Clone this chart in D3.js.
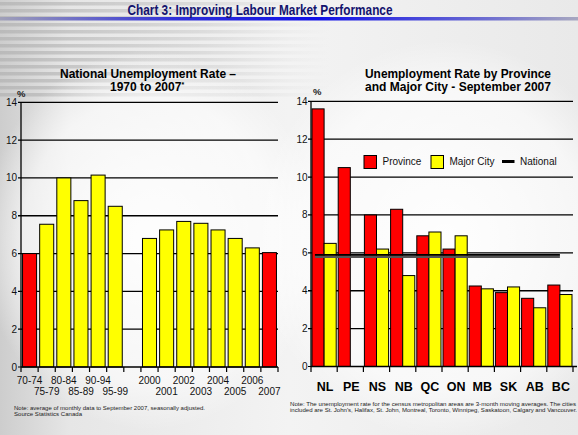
<!DOCTYPE html>
<html><head><meta charset="utf-8">
<script src="https://cdn.jsdelivr.net/npm/d3@7"></script>
<style>html,body{margin:0;padding:0;background:#e4e4e4;}svg{display:block;}</style>
</head><body>
<svg id="c" width="578" height="435"></svg>
<script>
// ---------- data ----------
const periods = ["70-74","75-79","80-84","85-89","90-94","95-99","2000","2001","2002","2003","2004","2005","2006","2007"];
const nationalRate = [6.0,7.55,10.0,8.8,10.15,8.5,6.8,7.25,7.7,7.6,7.25,6.8,6.3,6.05];
const highlighted = ["70-74","2007"];
const yTicks = [0,2,4,6,8,10,12,14];

const provinces = ["NL","PE","NS","NB","QC","ON","MB","SK","AB","BC"];
const provinceRate = [13.6,10.5,8.0,8.3,6.9,6.2,4.25,3.9,3.6,4.3];
const cityRate = [6.5,null,6.2,4.8,7.1,6.9,4.1,4.2,3.1,3.8];
const nationalSept = 5.85;
const seriesNames = ["Province","Major City","National"];

const RED = "#ff0000", YEL = "#ffff00";
const svg = d3.select("#c");
const defs = svg.append("defs");

// ---------- background ----------
const bg = defs.append("linearGradient").attr("id","bg").attr("x1",0).attr("x2",1).attr("y1",0).attr("y2",0);
bg.append("stop").attr("offset",0).attr("stop-color","#cdcdcd");
bg.append("stop").attr("offset",0.12).attr("stop-color","#e6e6e6");
bg.append("stop").attr("offset",0.5).attr("stop-color","#f3f3f3");
bg.append("stop").attr("offset",1).attr("stop-color","#e9e9e9");
svg.append("rect").attr("width",578).attr("height",435).attr("fill","url(#bg)");

const stripeFade = defs.append("linearGradient").attr("id","sf").attr("x1",0).attr("x2",1);
stripeFade.append("stop").attr("offset",0).attr("stop-color","#b8b8b8").attr("stop-opacity",0.9);
stripeFade.append("stop").attr("offset",0.6).attr("stop-color","#c4c4c4").attr("stop-opacity",0.45);
stripeFade.append("stop").attr("offset",1).attr("stop-color","#d0d0d0").attr("stop-opacity",0);
const stripeYs = d3.range(2, 100, 7);
svg.append("g").selectAll("rect").data(stripeYs).join("rect")
  .attr("x",0).attr("y",d=>d).attr("width",330).attr("height",3.5).attr("fill","url(#sf)");

// white plot glows
const glow = defs.append("radialGradient").attr("id","glow");
glow.append("stop").attr("offset",0).attr("stop-color","#ffffff").attr("stop-opacity",0.95);
glow.append("stop").attr("offset",0.75).attr("stop-color","#ffffff").attr("stop-opacity",0.6);
glow.append("stop").attr("offset",1).attr("stop-color","#ffffff").attr("stop-opacity",0);
svg.append("ellipse").attr("cx",150).attr("cy",240).attr("rx",170).attr("ry",190).attr("fill","url(#glow)");
svg.append("ellipse").attr("cx",445).attr("cy",240).attr("rx",190).attr("ry",200).attr("fill","url(#glow)");

// title band
const tb = defs.append("linearGradient").attr("id","tb").attr("x1",0).attr("x2",1);
tb.append("stop").attr("offset",0).attr("stop-color","#a0a0b8");
tb.append("stop").attr("offset",0.3).attr("stop-color","#3030d8");
tb.append("stop").attr("offset",0.55).attr("stop-color","#1010e8");
tb.append("stop").attr("offset",0.85).attr("stop-color","#7070d0");
tb.append("stop").attr("offset",1).attr("stop-color","#a8a8c0");
svg.append("rect").attr("x",0).attr("y",17).attr("width",578).attr("height",3.5).attr("fill","url(#tb)");
svg.append("text").attr("x",260).attr("y",15).attr("text-anchor","middle")
  .attr("font-family","'Liberation Sans Narrow','Arial Narrow',Arial,sans-serif").attr("font-weight","bold")
  .attr("font-size",15).attr("fill","#14146e")
  .attr("textLength",265).attr("lengthAdjust","spacingAndGlyphs")
  .text("Chart 3: Improving Labour Market Performance");

const FONT = "Arial, 'Liberation Sans', sans-serif";
const NARROW = "'Liberation Sans Narrow','Arial Narrow',Arial,sans-serif";

// ---------- left chart ----------
const L = {x0:21, x1:278, y0:367, y1:102.3};
const slots = [...periods.slice(0,6), "", ...periods.slice(6)];
const xL = d3.scaleBand().domain(slots).range([L.x0,L.x1]).paddingInner(0.18).paddingOuter(0.09);
const yL = d3.scaleLinear().domain([0,14]).range([L.y0,L.y1]);
const gL = svg.append("g");

gL.append("g").selectAll("line").data(yTicks.filter(d=>d>0)).join("line")
  .attr("x1",L.x0-3).attr("x2",L.x1).attr("y1",d=>yL(d)).attr("y2",d=>yL(d))
  .attr("stroke","#000").attr("stroke-width",1.3);

gL.append("g").selectAll("rect").data(periods).join("rect")
  .attr("x",d=>xL(d)).attr("width",xL.bandwidth())
  .attr("y",(d,i)=>yL(nationalRate[i])).attr("height",(d,i)=>yL(0)-yL(nationalRate[i]))
  .attr("fill",d=>highlighted.includes(d)?RED:YEL).attr("stroke","#000").attr("stroke-width",1);

// axes
gL.append("line").attr("x1",L.x0).attr("x2",L.x0).attr("y1",L.y1).attr("y2",L.y0).attr("stroke","#000").attr("stroke-width",1.3);
gL.append("line").attr("x1",L.x0).attr("x2",L.x1).attr("y1",L.y0).attr("y2",L.y0).attr("stroke","#000").attr("stroke-width",1.3);
const stepL = xL.step();
const bL = slots.map(s=>xL(s)-stepL*0.09).concat([L.x1]);
gL.append("g").selectAll("line").data(bL).join("line")
  .attr("x1",d=>d).attr("x2",d=>d).attr("y1",L.y0).attr("y2",L.y0+5).attr("stroke","#000").attr("stroke-width",1.2);
gL.append("line").attr("x1",L.x0-3).attr("x2",L.x0).attr("y1",yL(0)).attr("y2",yL(0)).attr("stroke","#000");

gL.append("g").selectAll("text").data(yTicks).join("text")
  .attr("x",L.x0-4).attr("y",d=>yL(d)+3.5).attr("text-anchor","end")
  .attr("font-family",FONT).attr("font-size",10).attr("fill","#111").text(d=>d);
gL.append("text").attr("x",17).attr("y",97).attr("font-family",FONT).attr("font-size",9.5).attr("font-weight","bold").attr("fill","#222").text("%");

gL.append("g").selectAll("text").data(periods).join("text")
  .attr("x",d=>xL(d)+xL.bandwidth()/2)
  .attr("y",(d,i)=> i%2===0 ? 383.5 : 394.5)
  .attr("text-anchor","middle").attr("font-family",NARROW).attr("font-size",10).attr("fill","#111").text(d=>d);

const tL = svg.append("text").attr("font-family",FONT).attr("font-weight","bold").attr("font-size",12).attr("fill","#000");
tL.append("tspan").attr("x",148).attr("y",78).attr("text-anchor","middle").attr("textLength",176).attr("lengthAdjust","spacingAndGlyphs").text("National Unemployment Rate –");
const t2 = svg.append("text").attr("x",110).attr("y",90.5).attr("font-family",FONT).attr("font-weight","bold").attr("font-size",12).attr("fill","#000");
t2.append("tspan").text("1970 to 2007");
t2.append("tspan").attr("font-size",7).attr("dy",-4).text("*");

svg.append("text").attr("x",14).attr("y",409.5).attr("font-family",FONT).attr("font-size",6).attr("fill","#222")
  .attr("textLength",191).attr("lengthAdjust","spacingAndGlyphs")
  .text("Note: average of monthly data to September 2007, seasonally adjusted.");
svg.append("text").attr("x",14).attr("y",416).attr("font-family",FONT).attr("font-size",6).attr("fill","#222")
  .attr("textLength",68).attr("lengthAdjust","spacingAndGlyphs")
  .text("Source Statistics Canada");

// ---------- right chart ----------
const R = {x0:311, x1:573, y0:366.5, y1:101.3};
const x0 = d3.scaleBand().domain(provinces).range([R.x0,R.x1]).padding(0);
const x1 = d3.scaleBand().domain(seriesNames.slice(0,2)).range([1, x0.step()-1]).padding(0);
const yR = d3.scaleLinear().domain([0,14]).range([R.y0,R.y1]);
const gR = svg.append("g");

gR.append("g").selectAll("line").data(yTicks.filter(d=>d>0)).join("line")
  .attr("x1",R.x0-3).attr("x2",R.x1).attr("y1",d=>yR(d)).attr("y2",d=>yR(d))
  .attr("stroke","#000").attr("stroke-width",1.3);

const groups = provinces.map((p,i)=>({p, vals:[{s:"Province",v:provinceRate[i]},{s:"Major City",v:cityRate[i]}]}));
gR.append("g").selectAll("g").data(groups).join("g")
  .attr("transform",d=>`translate(${x0(d.p)},0)`)
  .selectAll("rect").data(d=>d.vals.filter(v=>v.v!=null)).join("rect")
  .attr("x",d=>x1(d.s)).attr("width",x1.bandwidth())
  .attr("y",d=>yR(d.v)).attr("height",d=>yR(0)-yR(d.v))
  .attr("fill",d=>d.s==="Province"?RED:YEL).attr("stroke","#000").attr("stroke-width",1);

// national line
const nx1 = x0("NL")+x0.step()*0.15, nx2 = x0("BC")+x0.step()*0.5;
gR.append("line").attr("x1",nx1).attr("x2",nx2).attr("y1",yR(nationalSept)+1).attr("y2",yR(nationalSept)+1)
  .attr("stroke","#555").attr("stroke-width",2.5);
gR.append("line").attr("x1",nx1).attr("x2",nx2).attr("y1",yR(nationalSept)-0.8).attr("y2",yR(nationalSept)-0.8)
  .attr("stroke","#000").attr("stroke-width",1.8);

gR.append("line").attr("x1",R.x0).attr("x2",R.x0).attr("y1",R.y1).attr("y2",R.y0).attr("stroke","#000").attr("stroke-width",1.3);
gR.append("line").attr("x1",R.x0).attr("x2",R.x1+4).attr("y1",R.y0).attr("y2",R.y0).attr("stroke","#000").attr("stroke-width",1.3);
const bR = provinces.map(p=>x0(p)).concat([R.x1]);
gR.append("g").selectAll("line").data(bR).join("line")
  .attr("x1",d=>d).attr("x2",d=>d).attr("y1",R.y0).attr("y2",R.y0+5.5).attr("stroke","#000").attr("stroke-width",1.2);
gR.append("line").attr("x1",R.x0-3).attr("x2",R.x0).attr("y1",yR(0)).attr("y2",yR(0)).attr("stroke","#000");

gR.append("g").selectAll("text").data(yTicks).join("text")
  .attr("x",R.x0-3.5).attr("y",d=>yR(d)+3.5).attr("text-anchor","end")
  .attr("font-family",FONT).attr("font-size",10).attr("fill","#111").text(d=>d);
gR.append("text").attr("x",313).attr("y",95).attr("font-family",FONT).attr("font-size",9.5).attr("font-weight","bold").attr("fill","#222").text("%");

gR.append("g").selectAll("text").data(provinces).join("text")
  .attr("x",d=>x0(d)+x0.step()/2+1).attr("y",390.5).attr("text-anchor","middle")
  .attr("font-family",FONT).attr("font-weight","bold").attr("font-size",12.5).attr("fill","#000").text(d=>d);

const tR = svg.append("text").attr("font-family",FONT).attr("font-weight","bold").attr("font-size",12).attr("fill","#000");
tR.append("tspan").attr("x",365).attr("y",78).attr("textLength",186).attr("lengthAdjust","spacingAndGlyphs").text("Unemployment Rate by Province");
tR.append("tspan").attr("x",365).attr("y",90.5).attr("textLength",186).attr("lengthAdjust","spacingAndGlyphs").text("and Major City - September 2007");

// legend
const leg = svg.append("g");
const legItems = [{n:seriesNames[0],x:364,type:"rect",c:RED},{n:seriesNames[1],x:431,type:"rect",c:YEL},{n:seriesNames[2],x:502,type:"line",c:"#000"}];
legItems.forEach(it=>{
  if(it.type==="rect"){
    leg.append("rect").attr("x",it.x).attr("y",155.5).attr("width",12.5).attr("height",13).attr("fill",it.c).attr("stroke","#000").attr("stroke-width",1);
    leg.append("text").attr("x",it.x+18.5).attr("y",165).attr("font-family",FONT).attr("font-size",10).attr("fill","#111").text(it.n);
  } else {
    leg.append("line").attr("x1",it.x).attr("x2",it.x+12.5).attr("y1",161.5).attr("y2",161.5).attr("stroke","#000").attr("stroke-width",3);
    leg.append("text").attr("x",it.x+18).attr("y",165).attr("font-family",FONT).attr("font-size",10).attr("fill","#111").text(it.n);
  }
});

svg.append("text").attr("x",290).attr("y",405.5).attr("font-family",FONT).attr("font-size",6).attr("fill","#222")
  .attr("textLength",286).attr("lengthAdjust","spacingAndGlyphs")
  .text("Note: The unemployment rate for the census metropolitan areas are 3-month moving averages. The cities");
svg.append("text").attr("x",290).attr("y",412).attr("font-family",FONT).attr("font-size",6).attr("fill","#222")
  .attr("textLength",287).attr("lengthAdjust","spacingAndGlyphs")
  .text("included are St. John's, Halifax, St. John, Montreal, Toronto, Winnipeg, Saskatoon, Calgary and Vancouver.");
</script>
</body></html>
